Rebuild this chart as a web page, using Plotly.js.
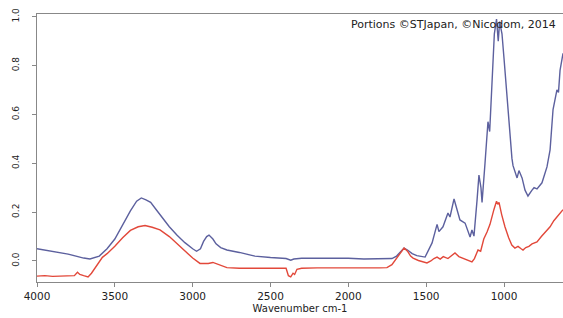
<!DOCTYPE html>
<html>
<head>
<meta charset="utf-8">
<script src="https://cdn.plot.ly/plotly-3.0.1.min.js"></script>
<style>html,body{margin:0;padding:0;background:#fff;}#chart{width:563px;height:318px;}</style>
</head>
<body>
<div id="chart"></div>
<script>
// Upper (blue) spectrum: wavenumber, absorbance
const blueWn = [4000,3900,3800,3700,3660,3600,3550,3500,3450,3400,3360,3330,3300,3270,3240,3200,3150,3100,3050,3000,2975,2950,2930,2910,2895,2870,2850,2820,2780,2700,2600,2500,2400,2370,2350,2300,2200,2000,1900,1800,1720,1690,1660,1642,1620,1590,1560,1507,1462,1430,1418,1392,1360,1347,1321,1302,1283,1250,1218,1206,1193,1173,1161,1148,1141,1122,1110,1103,1092,1078,1062,1048,1037,1028,1013,1000,981,962,949,942,916,904,884,865,846,820,807,788,756,724,704,685,660,650,640,621];
const blueAbs = [0.050,0.040,0.028,0.012,0.008,0.020,0.050,0.090,0.150,0.205,0.245,0.258,0.250,0.240,0.215,0.180,0.140,0.105,0.075,0.050,0.040,0.050,0.080,0.100,0.106,0.090,0.070,0.055,0.045,0.035,0.020,0.014,0.010,0.003,0.008,0.011,0.012,0.011,0.008,0.008,0.010,0.020,0.042,0.053,0.045,0.030,0.022,0.016,0.074,0.150,0.120,0.140,0.196,0.180,0.254,0.210,0.168,0.155,0.098,0.127,0.102,0.250,0.352,0.300,0.240,0.400,0.500,0.570,0.530,0.750,0.930,0.990,0.900,0.980,0.930,0.830,0.670,0.520,0.420,0.390,0.340,0.370,0.340,0.290,0.266,0.290,0.300,0.295,0.320,0.385,0.455,0.620,0.700,0.690,0.780,0.850];
// Lower (red) spectrum
const redWn = [4000,3950,3900,3850,3800,3760,3740,3725,3700,3672,3650,3620,3580,3550,3500,3450,3400,3350,3306,3260,3210,3150,3100,3050,3000,2953,2900,2870,2840,2780,2700,2600,2500,2400,2385,2370,2355,2345,2330,2300,2200,2100,2000,1900,1800,1752,1720,1690,1668,1642,1620,1600,1584,1550,1495,1470,1450,1430,1410,1390,1360,1340,1315,1290,1260,1230,1206,1190,1167,1150,1130,1109,1090,1065,1048,1040,1032,1015,994,970,950,930,910,890,878,860,840,820,800,788,760,730,704,680,660,640,621];
const redAbs = [-0.062,-0.060,-0.063,-0.061,-0.062,-0.060,-0.046,-0.055,-0.060,-0.065,-0.050,-0.020,0.015,0.030,0.060,0.095,0.125,0.140,0.145,0.138,0.127,0.100,0.070,0.040,0.012,-0.010,-0.010,-0.006,-0.012,-0.027,-0.030,-0.030,-0.030,-0.030,-0.060,-0.065,-0.050,-0.055,-0.034,-0.030,-0.028,-0.027,-0.028,-0.028,-0.028,-0.027,-0.015,0.010,0.033,0.053,0.040,0.020,0.012,0.002,-0.008,0.000,0.010,0.016,0.008,0.018,0.010,0.022,0.033,0.018,0.010,0.002,-0.004,0.010,0.045,0.040,0.090,0.119,0.150,0.210,0.245,0.232,0.240,0.190,0.140,0.095,0.065,0.053,0.060,0.050,0.045,0.055,0.060,0.070,0.075,0.078,0.100,0.120,0.140,0.165,0.180,0.195,0.210];
const xTicks = [4000,3500,3000,2500,2000,1500,1000];
const yTicks = [0,0.2,0.4,0.6,0.8,1.0];
const yTickText = ['0.0','0.2','0.4','0.6','0.8','1.0'];
const creditText = 'Portions ©STJapan, ©Nicodom, 2014';

const font = 'DejaVu Sans, Liberation Sans, sans-serif';
const traces = [
  {x: blueWn, y: blueAbs, type: 'scatter', mode: 'lines', line: {color: '#5c609e', width: 1.4}, hoverinfo: 'skip'},
  {x: redWn, y: redAbs, type: 'scatter', mode: 'lines', line: {color: '#e2483a', width: 1.4}, hoverinfo: 'skip'}
];
const layout = {
  width: 563, height: 318,
  margin: {l: 37, r: 0, t: 14, b: 36, pad: 0},
  paper_bgcolor: '#fff', plot_bgcolor: '#fff',
  showlegend: false,
  font: {family: font, color: '#222'},
  xaxis: {
    range: [4000, 621], tickvals: xTicks, ticks: 'outside', ticklen: 4, tickcolor: '#888',
    showline: true, linecolor: '#888', linewidth: 1, mirror: true,
    showgrid: false, zeroline: false,
    tickfont: {family: font, size: 10.5, color: '#222'},
    title: {text: 'Wavenumber cm-1', font: {family: font, size: 10, color: '#222'}, standoff: 4}
  },
  yaxis: {
    range: [-0.086, 1.011], tickvals: yTicks, ticktext: yTickText, tickangle: -90,
    ticks: 'outside', ticklen: 4, tickcolor: '#888', ticklabelstandoff: 9,
    showline: true, linecolor: '#888', linewidth: 1,
    showgrid: false, zeroline: false,
    tickfont: {family: font, size: 9, color: '#222'}
  },
  annotations: [{
    xref: 'paper', yref: 'paper', x: 0.99, y: 0.959, xanchor: 'right', yanchor: 'middle',
    text: creditText, showarrow: false, font: {family: font, size: 11, color: '#222'}
  }]
};
Plotly.newPlot('chart', traces, layout, {staticPlot: true, displayModeBar: false});
</script>
</body>
</html>
